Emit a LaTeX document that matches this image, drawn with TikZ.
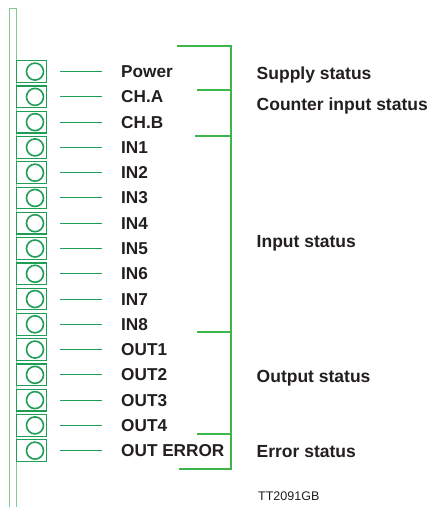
\documentclass[tikz,border=0pt]{standalone}
\usepackage{fontspec}
\setmainfont{Liberation Sans}
\begin{document}
\begin{tikzpicture}[x=1pt,y=-1pt,
  barline/.style={draw=barg,line width=1.2pt},
  ledbox/.style={draw=boxg,line width=1.2pt,minimum width=30pt,minimum height=21.6pt,inner sep=0pt},
  ledcirc/.style={draw=boxg,line width=1.6pt,circle,minimum size=17pt,inner sep=0pt},
  leadline/.style={draw=boxg,line width=1pt},
  lbl/.style={anchor=base west,inner sep=0pt,text=txt,font=\fontsize{17.2}{20}\selectfont\bfseries},
  brk/.style={draw=brg,line width=2pt},
]
\definecolor{barg}{HTML}{7FCB98}
\definecolor{boxg}{HTML}{1E9E55}
\definecolor{brg}{HTML}{3DB54A}
\definecolor{txt}{HTML}{231F20}
\useasboundingbox (0,0) rectangle (430,507);
\fill[white] (0,0) rectangle (430,507);
% left bar
\draw[barline] (9.8,8.3) rectangle (16.6,510);
% rows
\foreach \t [count=\i from 0] in {Power,CH.A,CH.B,IN1,IN2,IN3,IN4,IN5,IN6,IN7,IN8,OUT1,OUT2,OUT3,OUT4,OUT ERROR}{
  \pgfmathsetmacro{\yy}{71.6+25.27*\i}
  \node[ledbox] (b\i) at (31.6,\yy) {};
  \node[ledcirc] (c\i) at (35,\yy) {};
  \coordinate (ls\i) at (60,\yy);
  \coordinate (le\i) at (102,\yy);
  \draw[leadline] (ls\i) -- (le\i);
  \node[lbl] (t\i) at (121,\yy+6) {\t};
}
% bracket
\coordinate (top) at (231,46);
\coordinate (bot) at (231,469);
\coordinate (topL) at (178,46);
\coordinate (botL) at (180,469);
\draw[brk,line cap=rect] (topL) -- (top) -- (bot) -- (botL);
\foreach \yy/\xx [count=\k] in {90.3/197,136/195,332.3/197,434/197}{
  \coordinate (k\k a) at (\xx,\yy);
  \coordinate (k\k b) at (231,\yy);
  \draw[brk] (k\k a) -- (k\k b);
}
% group labels
\node[lbl,font=\fontsize{17.5}{20}\selectfont\bfseries] (g1) at (256.5,79) {Supply status};
\node[lbl,font=\fontsize{17.5}{20}\selectfont\bfseries] (g2) at (256.5,110.8) {Counter input status};
\node[lbl,font=\fontsize{17.5}{20}\selectfont\bfseries] (g3) at (256.5,247) {Input status};
\node[lbl,font=\fontsize{17.5}{20}\selectfont\bfseries] (g4) at (256.5,382.5) {Output status};
\node[lbl,font=\fontsize{17.5}{20}\selectfont\bfseries] (g5) at (256.5,457.5) {Error status};
\node[anchor=base west,inner sep=0pt,text=txt,font=\fontsize{12.5}{14}\selectfont] (tt) at (258,500.5) {TT2091GB};
\end{tikzpicture}
\end{document}
